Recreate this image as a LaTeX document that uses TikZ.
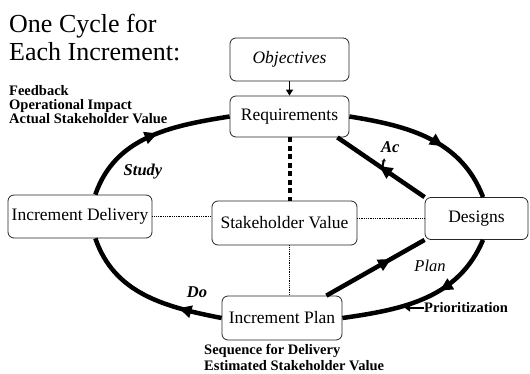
\documentclass[tikz,border=0pt]{standalone}
\usepackage{fontspec}
\setmainfont{Liberation Serif}
\usetikzlibrary{arrows.meta,decorations.markings}

\tikzset{
  box/.style={draw=black!85, line width=0.8pt, rounded corners=6pt, fill=white,
    minimum height=43pt, inner sep=2pt, font=\fontsize{17.5}{20}\selectfont},
  note/.style={inner sep=0pt, align=left, font=\fontsize{14.5}{14}\selectfont\bfseries},
  step label/.style={inner sep=0pt, font=\fontsize{16.5}{16}\selectfont\bfseries\itshape},
  % thick cycle line with an arrow head part way along
  cyc/.style={line width=4.5pt, postaction={decorate},
    decoration={markings, mark=at position #1 with
      {\arrow{Triangle[length=13pt,width=12pt]}}}},
  dotline/.style={line width=1.2pt, dash pattern=on 1pt off 0.8pt},
  dashline/.style={line width=4pt, dash pattern=on 5pt off 3.5pt}
}

\begin{document}
\begin{tikzpicture}[x=1pt, y=1pt]
\useasboundingbox (0,0) rectangle (530,373);

% Title and notes
\node[inner sep=0pt, align=left, anchor=north west,
  font=\fontsize{26}{28}\selectfont] (title) at (9,359) {One Cycle for\\Each Increment:};
\node[note, anchor=north west] (fb) at (9,288)
  {Feedback\\Operational Impact\\Actual Stakeholder Value};

% Boxes
\node[box, minimum width=119pt, font=\fontsize{17.5}{20}\selectfont\itshape] (obj) at (289.5,313.5) {Objectives};
\node[box, minimum width=119pt, minimum height=41pt] (req) at (289.5,256.5) {Requirements};
\node[box, minimum width=144pt] (del) at (80,156.5) {Increment Delivery};
\node[box, minimum width=145pt, minimum height=44pt] (stk) at (284.5,150) {Stakeholder Value};
\node[box, minimum width=103pt, minimum height=42pt] (des) at (476.5,154.5) {Designs};
\node[box, minimum width=120pt, minimum height=44pt] (pln) at (282,55) {Increment Plan};

% Links to the stakeholder value
\draw[dashline] (req.south) -- (req.south |- stk.north);
\draw[dotline] (req.south |- stk.south) -- (req.south |- pln.north);
\draw[dotline] (del.east) -- (del.east -| stk.west);
\draw[dotline] (des.west) -- (des.west -| stk.east);

% Inner arrows
\draw[cyc=0.52] (des.north west) -- ([xshift=-12pt]req.south east);
\draw[cyc=0.66] ([xshift=-16pt]pln.north east) -- (des.south west);

% The cycle
\draw[cyc=0.6] (req.east) to[out=-9, in=111] (des.73);
\draw[cyc=0.4] (des.-73) to[out=-113, in=8] (pln.east);
\draw[cyc=0.28] (pln.west) to[out=169, in=-71] (del.-55);
\draw[cyc=0.55] (del.55) to[out=71, in=189] (req.west);

\draw[-{Triangle[length=6pt,width=7pt]}, line width=1.8pt] (obj) -- (req);

% Step labels
\node[step label] (study) at (143,201) {Study};
\node[step label] (do) at (197,81) {Do};
\node[step label, font=\fontsize{16.5}{16}\selectfont\itshape] (plan) at (430,107) {Plan};
\node[step label, align=left, anchor=north west] (act) at (381,232) {Ac\\t};

% Prioritization and plan notes
\node[note, anchor=west] (prio) at (424,65) {Prioritization};
\coordinate (prioarr) at (405,65);
\draw[-{Triangle[length=5pt,width=7pt]}, line width=2pt] (prio.west) -- (prioarr);
\node[note, anchor=north west, font=\fontsize{14.5}{16}\selectfont\bfseries] (seq) at (204,29)
  {Sequence for Delivery\\Estimated Stakeholder Value};

\end{tikzpicture}
\end{document}
